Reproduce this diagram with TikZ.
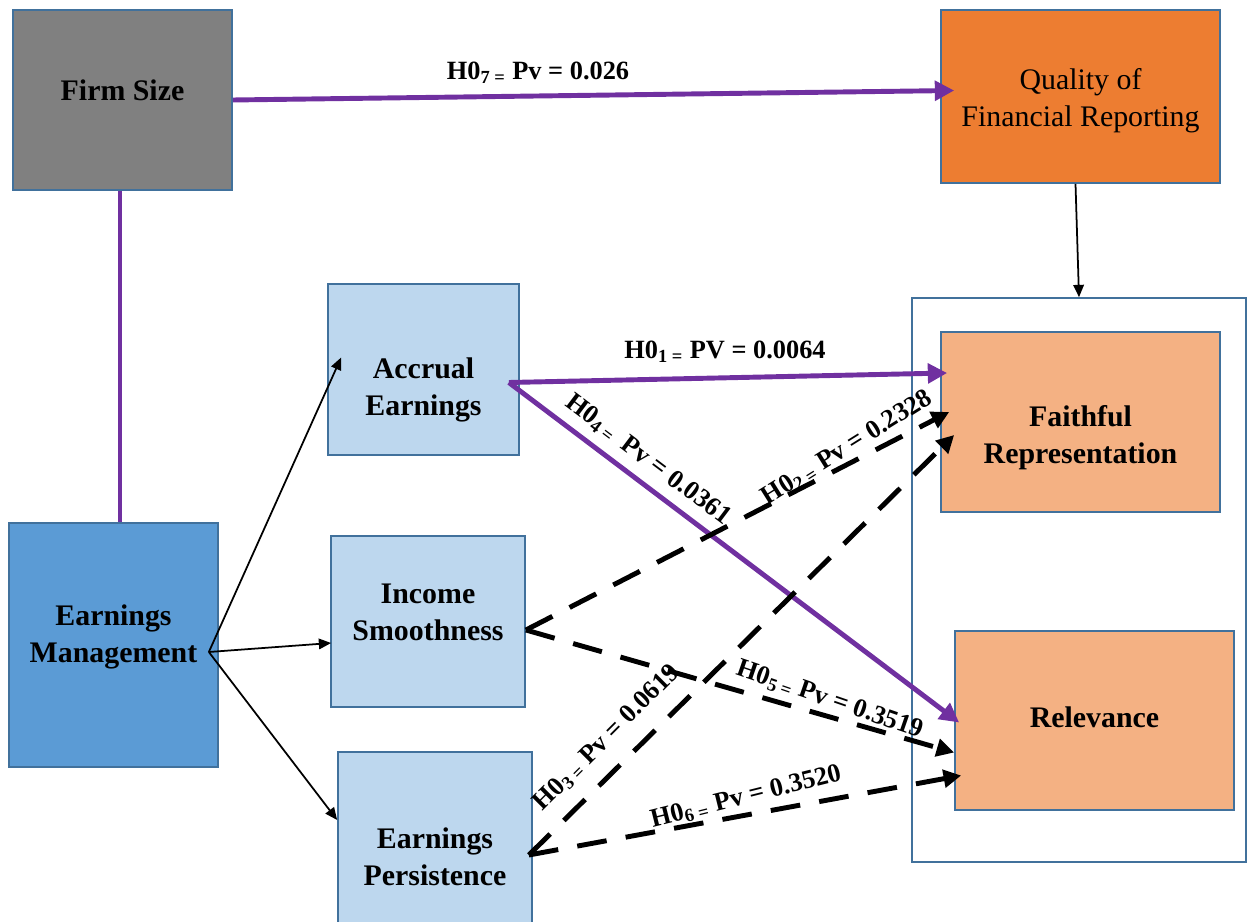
\documentclass[tikz,border=0pt]{standalone}
\usepackage{fontspec}
\setmainfont{Liberation Serif}
\usetikzlibrary{arrows.meta,calc}
\definecolor{boxline}{HTML}{41719C}
\definecolor{hyppurple}{HTML}{7030A0}
\definecolor{sizegray}{HTML}{808080}
\definecolor{qualorange}{HTML}{ED7D31}
\definecolor{qualpeach}{HTML}{F4B183}
\definecolor{emlight}{HTML}{BDD7EE}
\definecolor{emdark}{HTML}{5B9BD5}
\begin{document}
\begin{tikzpicture}[
  x=0.02cm, y=-0.02cm,
  every node/.style={draw=boxline, line width=1pt, align=center,
    font=\bfseries\fontsize{17}{21}\selectfont},
  txt/.style={draw=none, inner sep=0pt},
  lbl/.style={draw=none, inner sep=0pt, font=\bfseries\fontsize{15}{18}\selectfont},
  sig/.style={draw=hyppurple, line width=2.8pt, -{Triangle[length=11pt, width=11pt]}},
  nonsig/.style={draw=black, line width=2.8pt, dash pattern=on 17pt off 11pt,
    -{Triangle[length=10pt, width=10pt]}},
  thin/.style={draw=black, line width=1pt, -{Triangle[length=7pt, width=6pt]}}
]
  \clip (0,0) rectangle (1247,922);

  \node[fill=sizegray, minimum width=4.38cm, minimum height=3.6cm] (fs) at (122.5,100) {};
  \node[txt] (fs-t) at ($(fs)+(0,-10)$) {Firm Size};
  \node[fill=qualorange, minimum width=5.58cm, minimum height=3.46cm] (qfr) at (1080.5,96.5) {};
  \node[txt, font=\fontsize{17}{21}\selectfont] (qfr-t) at ($(qfr)+(0,4)$) {Quality of\\Financial Reporting};

  \node[minimum width=6.68cm, minimum height=11.28cm] (grp) at (1079,580) {};
  \node[fill=qualpeach, minimum width=5.58cm, minimum height=3.6cm] (fr) at (1080.5,422) {};
  \node[txt] (fr-t) at ($(fr)+(0,16)$) {Faithful\\Representation};
  \node[fill=qualpeach, minimum width=5.58cm, minimum height=3.58cm] (rel) at (1094.5,720.5) {};
  \node[txt] (rel-t) at ($(rel)+(0,-3)$) {Relevance};

  \node[fill=emdark, minimum width=4.18cm, minimum height=4.88cm] (em) at (113.5,645) {};
  \node[txt] (em-t) at ($(em)+(0,-8)$) {Earnings\\Management};
  \node[fill=emlight, minimum width=3.82cm, minimum height=3.42cm] (ae) at (423.5,369.5) {};
  \node[txt] (ae-t) at ($(ae)+(0,20)$) {Accrual\\Earnings};
  \node[fill=emlight, minimum width=3.88cm, minimum height=3.42cm] (is) at (428,621.5) {};
  \node[txt] (is-t) at ($(is)+(0,-9)$) {Income\\Smoothness};
  \node[fill=emlight, minimum width=3.88cm, minimum height=4.2cm] (ep) at (435,857) {};
  \node[txt] (ep-t) at (ep) {Earnings\\Persistence};

  % firm size and quality of reporting
  \draw[sig] (fs.east) -- ($(qfr.west)+(14,-6)$);
  \coordinate (fs-b) at ($(fs.south)+(-2.5,0)$);
  \draw[hyppurple, line width=2.8pt] (fs-b) -- (fs-b |- em.north);
  \draw[thin] ($(qfr.south)+(-5,0)$) -- (grp.north);

  % earnings management components
  \draw[thin] ($(em.east)+(-10,7)$) -- ($(ae.west)+(14,-12)$);
  \draw[thin] ($(em.east)+(-10,7)$) -- ($(is.west)+(1,21.5)$);
  \draw[thin] ($(em.east)+(-10,7)$) -- ($(ep.west)+(0,-37)$);

  % hypotheses
  \draw[sig] ($(ae.east)+(-11,13)$) -- ($(fr.west)+(7,-49)$);
  \draw[sig] ($(ae.east)+(-11,13)$) -- ($(rel.west)+(5,2)$);
  \draw[nonsig] ($(is.east)+(0,8.5)$) -- ($(fr.west)+(9,-10)$);
  \draw[nonsig] ($(ep.east)+(-4,-2)$) -- ($(fr.west)+(14,13)$);
  \draw[nonsig] ($(is.east)+(0,8.5)$) -- ($(rel.west)+(0,32)$);
  \draw[nonsig] ($(ep.east)+(-4,-2)$) -- ($(rel.west)+(7,55)$);

  \node[lbl] (h7) at (538,73) {H0\textsubscript{7 =} Pv = 0.026};
  \node[lbl] (h1) at (725,352) {H0\textsubscript{1 =} PV = 0.0064};
  \node[lbl, rotate=-37] (h4) at (648,460) {H0\textsubscript{4 =}\, Pv = 0.0361};
  \node[lbl, rotate=32] (h2) at (847,448) {H0\textsubscript{2 =} Pv = 0.2328};
  \node[lbl, rotate=45] (h3) at (607,738) {H0\textsubscript{3 =} Pv = 0.0619};
  \node[lbl, rotate=-19] (h5) at (830,700) {H0\textsubscript{5 =} Pv = 0.3519};
  \node[lbl, rotate=14] (h6) at (746,797) {H0\textsubscript{6 =} Pv = 0.3520};
\end{tikzpicture}
\end{document}
